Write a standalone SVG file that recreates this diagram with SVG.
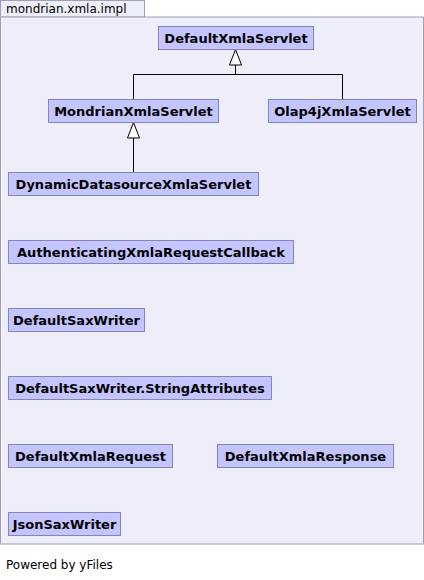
<svg xmlns="http://www.w3.org/2000/svg" width="424" height="580" viewBox="0 0 424 580">
<style>
.pkg{fill:#eeeefb;stroke:#a0a0b4;stroke-width:1}
.node rect{fill:#c4c4ff;stroke:#8484b8;stroke-width:1}
.node text{font-family:"DejaVu Sans",sans-serif;font-weight:bold;font-size:13px;fill:#000;text-anchor:middle}
.edge{fill:none;stroke:#000;stroke-width:1}
.head{fill:#fff;stroke:#000;stroke-width:1}
.lbl{font-family:"DejaVu Sans",sans-serif;font-size:12px;fill:#000}
</style>
<rect width="424" height="580" fill="#fff"/>
<g id="package">
<rect class="pkg" x="0.5" y="0.5" width="144" height="16.5"/>
<rect class="pkg" x="0.5" y="17" width="423" height="527"/>
<text class="lbl" x="6" y="13">mondrian.xmla.impl</text>
</g>
<g id="connectors">
<polyline class="edge" points="133.5,99 133.5,74.5 342.5,74.5 342.5,99"/>
<line class="edge" x1="235.5" y1="74.5" x2="235.5" y2="65"/>
<polygon class="head" points="235.5,49.5 229.5,65 241.5,65"/>
<line class="edge" x1="133.5" y1="172" x2="133.5" y2="138"/>
<polygon class="head" points="133.5,122.5 127.5,138 139.5,138"/>
</g>
<g id="DefaultXmlaServlet" class="node"><rect x="158.5" y="26.5" width="155" height="23"/><text x="236" y="43">DefaultXmlaServlet</text></g>
<g id="MondrianXmlaServlet" class="node"><rect x="48.5" y="99.5" width="170" height="23"/><text x="133.5" y="116">MondrianXmlaServlet</text></g>
<g id="Olap4jXmlaServlet" class="node"><rect x="268.5" y="99.5" width="148" height="23"/><text x="342.5" y="116">Olap4jXmlaServlet</text></g>
<g id="DynamicDatasourceXmlaServlet" class="node"><rect x="8.5" y="172.5" width="250" height="23"/><text x="133.5" y="189">DynamicDatasourceXmlaServlet</text></g>
<g id="AuthenticatingXmlaRequestCallback" class="node"><rect x="8.5" y="240.5" width="285" height="23"/><text x="151" y="257">AuthenticatingXmlaRequestCallback</text></g>
<g id="DefaultSaxWriter" class="node"><rect x="8.5" y="308.5" width="136" height="23"/><text x="76.5" y="325">DefaultSaxWriter</text></g>
<g id="DefaultSaxWriter.StringAttributes" class="node"><rect x="8.5" y="376.5" width="263" height="23"/><text x="140" y="393">DefaultSaxWriter.StringAttributes</text></g>
<g id="DefaultXmlaRequest" class="node"><rect x="8.5" y="444.5" width="164" height="23"/><text x="90.5" y="461">DefaultXmlaRequest</text></g>
<g id="DefaultXmlaResponse" class="node"><rect x="217.5" y="444.5" width="176" height="23"/><text x="305.5" y="461">DefaultXmlaResponse</text></g>
<g id="JsonSaxWriter" class="node"><rect x="8.5" y="512.5" width="112" height="23"/><text x="64.5" y="529">JsonSaxWriter</text></g>
<text class="lbl" x="6" y="569">Powered by yFiles</text>
</svg>
